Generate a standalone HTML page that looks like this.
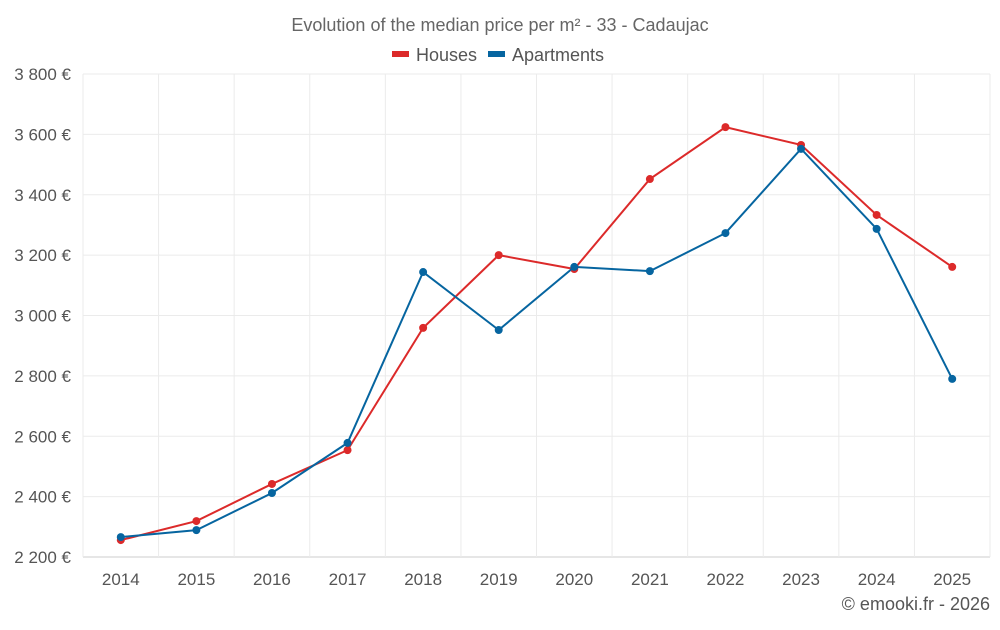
<!DOCTYPE html>
<html><head><meta charset="utf-8"><style>
body{margin:0;background:#fff;font-family:"Liberation Sans",sans-serif;}
svg text{font-family:"Liberation Sans",sans-serif;}
</style></head><body>
<svg id="chart" width="1000" height="625">
<text x="500" y="31" text-anchor="middle" font-size="18" fill="#666">Evolution of the median price per m² - 33 - Cadaujac</text>
<g>
<g><rect x="392" y="51" width="17" height="6" fill="#dc2a2a"/><text x="416" y="61" font-size="18" fill="#555">Houses</text></g>
<g><rect x="488" y="51" width="17" height="6" fill="#0665a0"/><text x="512" y="61" font-size="18" fill="#555">Apartments</text></g>
</g>
<g id="grid"></g><g id="axes"></g><g id="series"></g>
<text x="990" y="610" text-anchor="end" font-size="18" fill="#555">© emooki.fr - 2026</text>
</svg>
<script>
const years=["2014","2015","2016","2017","2018","2019","2020","2021","2022","2023","2024","2025"];
const houses=[2256,2319,2442,2554,2959,3200,3154,3452,3624,3565,3333,3161];
const apartments=[2266,2289,2412,2578,3144,2952,3161,3147,3273,3552,3287,2790];
const yTicks=[2200,2400,2600,2800,3000,3200,3400,3600,3800];
const yLabels=["2 200 €","2 400 €","2 600 €","2 800 €","3 000 €","3 200 €","3 400 €","3 600 €","3 800 €"];
const L=83,R=990,T=74,B=557,yMin=2200,yMax=3800;
const step=(R-L)/years.length;
const xs=i=>L+step*(i+0.5);
const ys=v=>B-(v-yMin)/(yMax-yMin)*(B-T);
const NS="http://www.w3.org/2000/svg";
function mk(t,a,p){const e=document.createElementNS(NS,t);for(const k in a)e.setAttribute(k,a[k]);p.appendChild(e);return e;}
const g=document.getElementById('grid'),ax=document.getElementById('axes'),s=document.getElementById('series');
yTicks.forEach((v,i)=>{
const l=mk('line',{x1:L,x2:R,y1:ys(v),y2:ys(v),stroke:i==0?'#ccc':'#ebebeb'},g);


const t=mk('text',{x:71,y:ys(v)+6,'text-anchor':'end','font-size':17,fill:'#555'},ax);t.textContent=yLabels[i];


});
for(let i=0;i<=years.length;i++){
const l=mk('line',{x1:L+step*i,x2:L+step*i,y1:T,y2:B,stroke:'#ebebeb'},g);


}
years.forEach((y,i)=>{
const t=mk('text',{x:xs(i),y:585,'text-anchor':'middle','font-size':17,fill:'#555'},ax);t.textContent=y;


});
function draw(d,c,n){
const p=mk('polyline',{points:d.map((v,i)=>xs(i)+','+ys(v)).join(' '),fill:'none',stroke:c,'stroke-width':2},s);


d.forEach((v,i)=>{const c2=mk('circle',{cx:xs(i),cy:ys(v),r:4,fill:c},s);

});
}
draw(houses,'#dc2a2a','houses');
draw(apartments,'#0665a0','apartments');
</script>
</body></html>
